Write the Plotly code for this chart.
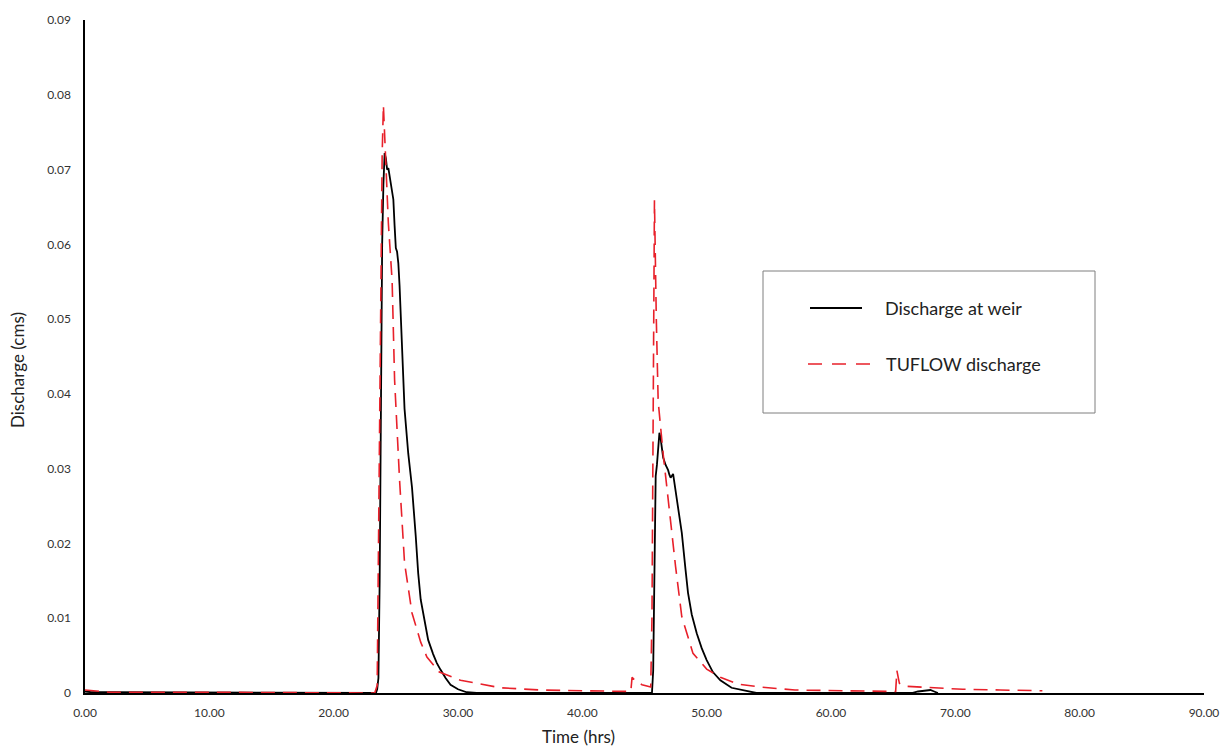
import plotly.graph_objects as go

# Discharge at weir (observed)
weir_t = [0, 0.5, 2, 6, 10, 14, 18, 22, 23.4, 23.5, 23.6, 23.7, 23.8, 23.9, 24.0, 24.1, 24.2, 24.3, 24.4,
          24.5, 24.6, 24.7, 24.8, 24.9, 25.0, 25.1, 25.2, 25.3, 25.5, 25.7, 26.0, 26.3, 26.6, 26.8,
          27.0, 27.3, 27.6, 28.0, 28.3, 28.6, 29.0, 29.4, 30.0, 30.7, 31.5, 40.0, 45.6, 45.7, 45.8,
          45.9, 46.0, 46.1, 46.2, 46.3, 46.4, 46.5, 46.7, 46.9, 47.0, 47.1, 47.3, 47.5, 47.7, 48.0,
          48.3, 48.5, 48.8, 49.2, 49.6, 50.0, 50.5, 51.1, 52.0, 53.3, 54.0, 60.0, 66.5, 67.0, 67.5,
          68.0, 68.3, 68.6]
weir_q = [0.0002, 0.0001, 0.0001, 0.0001, 0.0, 0.0001, 0.0, 0.0001, 0.0, 0.0005, 0.002, 0.015, 0.042,
          0.060, 0.068, 0.0722, 0.0715, 0.0700, 0.0702, 0.0690, 0.0685, 0.0672, 0.0660, 0.0625, 0.0595,
          0.0590, 0.0575, 0.0545, 0.046, 0.038, 0.032, 0.0275, 0.021, 0.016, 0.0125, 0.0095, 0.0071,
          0.0052, 0.0040, 0.0031, 0.0020, 0.0011, 0.0005, 0.0001, 0.0, 0.0, 0.0, 0.003, 0.020, 0.029,
          0.0305, 0.0335, 0.0348, 0.0340, 0.0330, 0.0315, 0.0305, 0.0298, 0.0292, 0.0288, 0.0293,
          0.0270, 0.0250, 0.0214, 0.0165, 0.0134, 0.0105, 0.0080, 0.0060, 0.0044, 0.0028, 0.0017,
          0.0007, 0.0002, 0.0, 0.0, 0.0, 0.0002, 0.0003, 0.0004, 0.0002, 0.0]

# TUFLOW modelled discharge
tuflow_t = [0, 1.0, 2, 10, 20, 23.3, 23.5, 23.6, 23.75, 23.9, 24.0, 24.1, 24.2, 24.4, 24.7, 24.9, 25.3,
            25.7, 26.3, 27.0, 27.5, 28.5, 30.2, 31.5, 33.4, 36.6, 40.6, 43.9, 44.0, 44.3, 44.8, 45.5,
            45.6, 45.7, 45.8, 45.95, 46.1, 46.5, 46.9, 47.5, 48.0, 48.9, 50.0, 51.1, 52.5, 54.3, 57.1,
            60.3, 63.5, 65.2, 65.3, 65.5, 66.0, 67.2, 70.6, 73.6, 76.0, 77.0]
tuflow_q = [0.0004, 0.0002, 0.0001, 0.0001, 0.0, 0.0, 0.001, 0.02, 0.050, 0.072, 0.0786, 0.074, 0.070,
            0.0628, 0.0552, 0.0419, 0.0285, 0.0174, 0.0107, 0.0068, 0.0048, 0.0028, 0.0017, 0.0013,
            0.0007, 0.0004, 0.0003, 0.0002, 0.0021, 0.0016, 0.0011, 0.0008, 0.010, 0.045, 0.0659,
            0.050, 0.039, 0.032, 0.0258, 0.0169, 0.0102, 0.0053, 0.0032, 0.0021, 0.0012, 0.0008,
            0.0004, 0.0003, 0.0002, 0.0002, 0.0030, 0.0013, 0.0009, 0.0008, 0.0005, 0.0004, 0.0003,
            0.0003]

x_ticks = [0, 10, 20, 30, 40, 50, 60, 70, 80, 90]
y_ticks = [0, 0.01, 0.02, 0.03, 0.04, 0.05, 0.06, 0.07, 0.08, 0.09]

series_names = ["Discharge at weir", "TUFLOW discharge"]
RED = "#E8202A"
FONT = "Lato, Open Sans, sans-serif"

fig = go.Figure()
fig.add_trace(go.Scatter(x=weir_t, y=weir_q, mode="lines", name=series_names[0],
                         line=dict(color="black", width=1.8)))
fig.add_trace(go.Scatter(x=tuflow_t, y=tuflow_q, mode="lines", name=series_names[1],
                         line=dict(color=RED, width=1.6, dash="14px,8px")))

fig.update_layout(
    width=1224, height=749,
    margin=dict(l=85, r=20, t=20, b=56, autoexpand=False),
    paper_bgcolor="white", plot_bgcolor="white",
    showlegend=False,
    font=dict(family=FONT, color="#333", size=12),
    xaxis=dict(range=[0, 90], tickvals=x_ticks, ticktext=[f"{v:.2f}" for v in x_ticks],
               showgrid=False, zeroline=False, showline=True, linecolor="black", linewidth=1.5,
               ticks="", ticklabelstandoff=8, automargin=False, ticklabeloverflow="allow",
               tickfont=dict(size=12, color="#333")),
    yaxis=dict(range=[0, 0.09], tickvals=y_ticks,
               ticktext=["0"] + [f"{v:.2f}" for v in y_ticks[1:]],
               showgrid=False, zeroline=False, showline=True, linecolor="black", linewidth=1.5,
               ticks="", ticklabelstandoff=10, automargin=False, ticklabeloverflow="allow",
               tickfont=dict(size=12, color="#333")),
)

# helpers: convert page pixel to paper coords (plot area 85..1204 x, 20..693 y)
def px(xp):
    return (xp - 85) / 1119
def py(yp):
    return (693 - yp) / 673

# axis titles
fig.add_annotation(text="Time (hrs)", xref="paper", yref="paper", x=px(578), y=py(736),
                   showarrow=False, font=dict(size=17, color="#222"), xanchor="center", yanchor="middle")
fig.add_annotation(text="Discharge (cms)", xref="paper", yref="paper", x=px(18), y=py(370),
                   showarrow=False, textangle=-90, font=dict(size=17, color="#222"),
                   xanchor="center", yanchor="middle")

# custom legend box
fig.add_shape(type="rect", xref="paper", yref="paper", x0=px(763), x1=px(1095), y0=py(413), y1=py(271),
              line=dict(color="#7f7f7f", width=1), fillcolor="white")
fig.add_shape(type="line", xref="paper", yref="paper", x0=px(810), x1=px(862), y0=py(308), y1=py(308),
              line=dict(color="black", width=1.8))
fig.add_shape(type="line", xref="paper", yref="paper", x0=px(808), x1=px(872), y0=py(364), y1=py(364),
              line=dict(color=RED, width=1.6, dash="14px,10px"))
fig.add_annotation(text=series_names[0], xref="paper", yref="paper", x=px(883), y=py(308),
                   showarrow=False, xanchor="left", yanchor="middle", font=dict(size=18, color="#222"))
fig.add_annotation(text=series_names[1], xref="paper", yref="paper", x=px(884), y=py(364),
                   showarrow=False, xanchor="left", yanchor="middle", font=dict(size=18, color="#222"))

# remove the default page margin so the figure sits at the window's top-left corner
fig.write_html("out.html", config={"displayModeBar": False},
               post_script="document.body.style.margin='0';document.body.style.overflow='hidden';")
